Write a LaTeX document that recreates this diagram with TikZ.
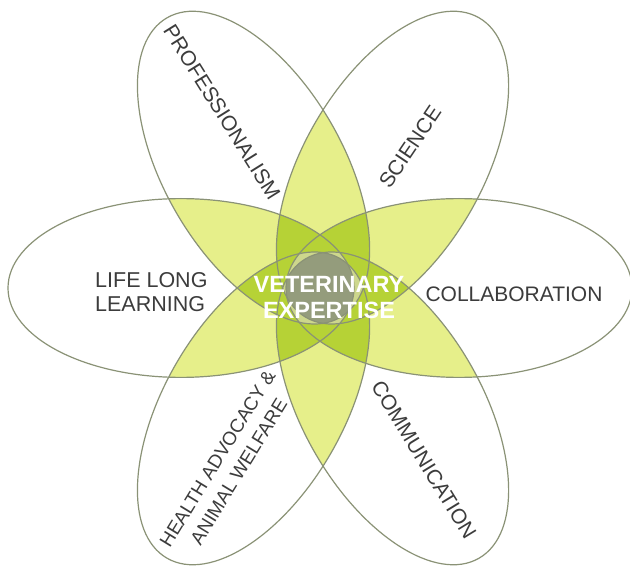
\documentclass[tikz,border=0pt]{standalone}
\usepackage{fontspec}
\setmainfont{Liberation Sans}
\definecolor{lyel}{HTML}{E6EF8A}
\definecolor{bgreen}{HTML}{B6D236}
\definecolor{pale}{HTML}{CDD78C}
\definecolor{cgray}{HTML}{949C7C}
\definecolor{oline}{HTML}{8A9276}
\definecolor{txt}{HTML}{3C3C3C}
\begin{document}
\begin{tikzpicture}[x=1pt,y=1pt,
  pet/.style={shift={({320+3.5*abs(sin(#1))},278)},rotate=#1},
  lbl/.style={text=txt,font=\fontsize{21}{24}\selectfont,inner sep=0pt,align=center},
  outl/.style={draw=oline,line width=1.2pt}]
\def\E{(139,0) ellipse [x radius=173pt, y radius=89.4pt]}
\useasboundingbox (0,0) rectangle (630,566);
\fill[white] (0,0) rectangle (630,566);
% two petals overlapping
\foreach \i/\j in {0/60,0/120,0/180,0/240,0/300,60/120,60/180,60/240,60/300,120/180,120/240,120/300,180/240,180/300,240/300}{
  \begin{scope}
    \clip[pet=\i] \E;
    \fill[lyel,pet=\j] \E;
  \end{scope}
}
% three petals overlapping
\foreach \i/\j/\k in {0/60/120,0/60/180,0/60/240,0/60/300,0/120/180,0/120/240,0/120/300,0/180/240,0/180/300,0/240/300,60/120/180,60/120/240,60/120/300,60/180/240,60/180/300,60/240/300,120/180/240,120/180/300,120/240/300,180/240/300}{
  \begin{scope}
    \clip[pet=\i] \E;
    \clip[pet=\j] \E;
    \fill[bgreen,pet=\k] \E;
  \end{scope}
}
% five petals overlapping
\foreach \a/\b/\c/\d/\e in {60/120/180/240/300,0/120/180/240/300,0/60/180/240/300,0/60/120/240/300,0/60/120/180/300,0/60/120/180/240}{
  \begin{scope}
    \clip[pet=\a] \E;
    \clip[pet=\b] \E;
    \clip[pet=\c] \E;
    \clip[pet=\d] \E;
    \fill[pale,pet=\e] \E;
  \end{scope}
}
% all six
\begin{scope}
  \clip[pet=0] \E;
  \clip[pet=60] \E;
  \clip[pet=120] \E;
  \clip[pet=180] \E;
  \clip[pet=240] \E;
  \fill[cgray,pet=300] \E;
\end{scope}
\foreach \t in {0,60,120,180,240,300}{
  \path[outl,pet=\t] \E;
}
\node[lbl,align=left,anchor=west,font=\fontsize{21.5}{24}\selectfont] (life) at (95,274) {LIFE LONG\\LEARNING};
\node[lbl] (collab) at (514,272) {COLLABORATION};
\node[lbl,rotate=-58] (prof) at (222,454) {PROFESSIONALISM};
\node[lbl,rotate=56] (sci) at (410,419) {SCIENCE};
\node[lbl,rotate=-58.5] (comm) at (424,106) {COMMUNICATION};
\node[lbl,rotate=58.5,font=\fontsize{19}{25}\selectfont] (health) at (228,101) {HEALTH ADVOCACY \&\\ANIMAL WELFARE};
\node[text=white,font=\bfseries\fontsize{23.5}{26}\selectfont,align=center,inner sep=0pt] (vet) at (329,268) {VETERINARY\\EXPERTISE};
\end{tikzpicture}
\end{document}
